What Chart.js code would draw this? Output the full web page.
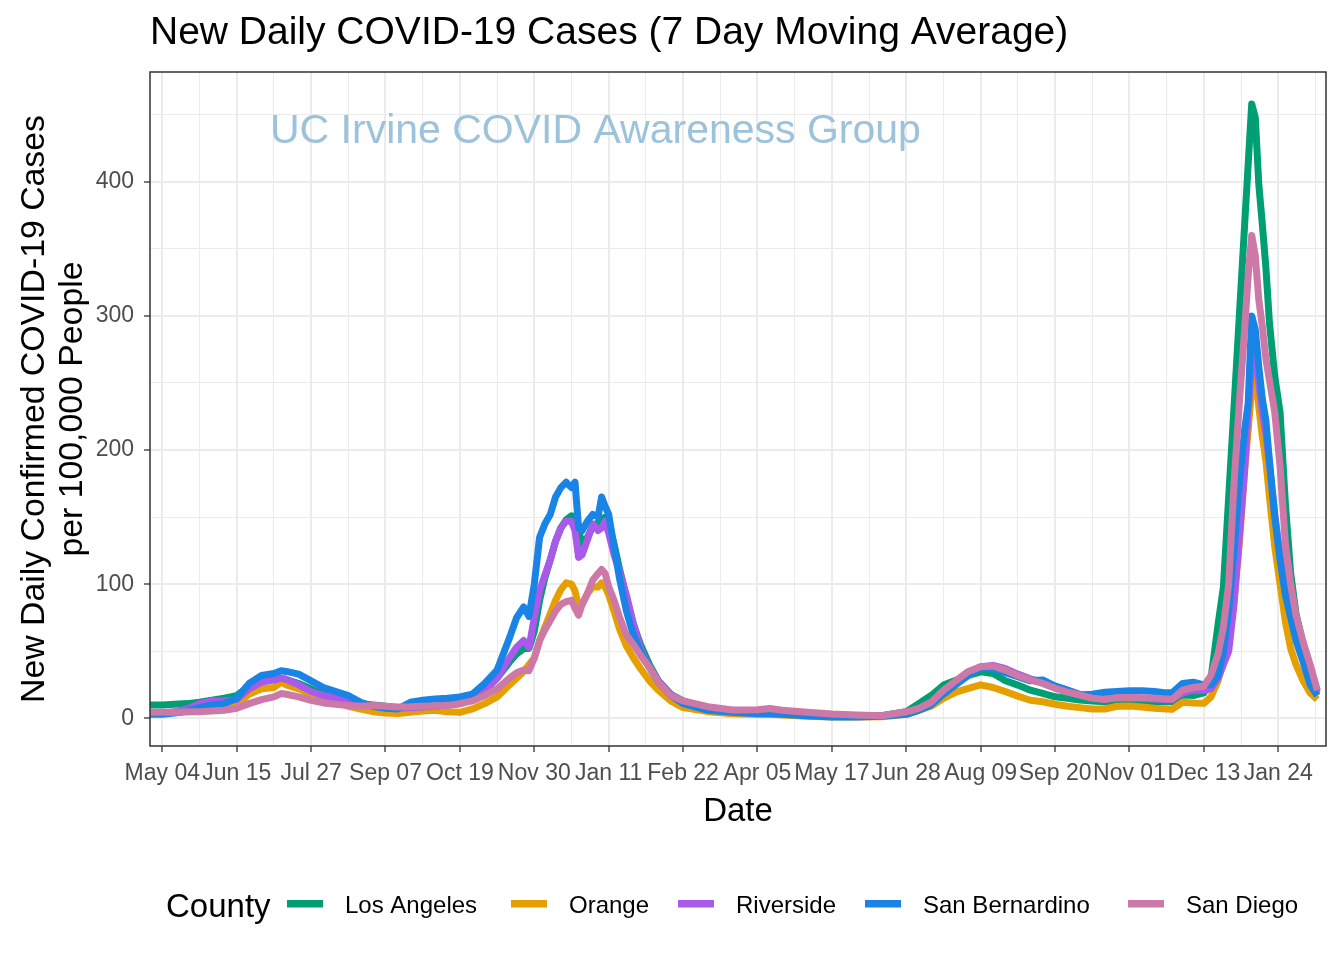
<!DOCTYPE html>
<html>
<head>
<meta charset="utf-8">
<script src="https://cdn.jsdelivr.net/npm/chart.js@4.4.1/dist/chart.umd.min.js"></script>
<style>html,body{margin:0;padding:0;background:#fff}canvas{display:block}</style>
</head>
<body>
<canvas id="c" width="1344" height="960"></canvas>
<script>
// ---------------- data ----------------
const dates = [
"2020-04-27","2020-05-04","2020-05-11","2020-05-18","2020-05-25","2020-06-01","2020-06-08","2020-06-15",
"2020-06-22","2020-06-29","2020-07-06","2020-07-10","2020-07-13","2020-07-20","2020-07-27","2020-08-03","2020-08-10","2020-08-17",
"2020-08-24","2020-08-31","2020-09-07","2020-09-14","2020-09-21","2020-09-28","2020-10-05","2020-10-12","2020-10-19","2020-10-26",
"2020-11-02","2020-11-09","2020-11-16","2020-11-20","2020-11-24","2020-11-27","2020-11-30","2020-12-03","2020-12-06","2020-12-09",
"2020-12-12","2020-12-15","2020-12-18","2020-12-21","2020-12-23","2020-12-25","2020-12-27","2020-12-30","2021-01-02","2021-01-05",
"2021-01-07","2021-01-09","2021-01-11","2021-01-14","2021-01-17","2021-01-21","2021-01-25","2021-01-29","2021-02-03","2021-02-08",
"2021-02-15","2021-02-22","2021-03-08","2021-03-22","2021-04-05","2021-04-12","2021-04-19","2021-05-03","2021-05-17","2021-05-31",
"2021-06-14","2021-06-28","2021-07-05","2021-07-12","2021-07-19","2021-07-26","2021-08-02","2021-08-09","2021-08-16","2021-08-23",
"2021-08-30","2021-09-06","2021-09-13","2021-09-20","2021-09-27","2021-10-04","2021-10-11","2021-10-18","2021-10-25","2021-11-01",
"2021-11-08","2021-11-15","2021-11-22","2021-11-25","2021-12-01","2021-12-07","2021-12-13","2021-12-17","2021-12-21","2021-12-24",
"2021-12-27","2021-12-30","2022-01-02","2022-01-05","2022-01-07","2022-01-09","2022-01-11","2022-01-13","2022-01-15","2022-01-17",
"2022-01-19","2022-01-22","2022-01-25","2022-01-28","2022-01-31","2022-02-03","2022-02-07","2022-02-11","2022-02-15"
];

const losAngeles = [
10,10,10.5,11,12,13.5,15,17,
24,28,30,30,29,26,22,18,15,13,
11,10,9,8,8,8.5,9,10,11,15,
22,30,42,48,52,52,65,88,105,118,
132,142,148,151,150,140,130,135,143,146,
148,150,145,130,112,90,70,55,40,28,
18,13,7,5,4,4,3.5,2.5,2,1.5,
2,5,11,17,24.8,28.5,32,34.7,33.5,28,
24.8,21,18.6,16.1,15,13.6,13,12.4,12.4,12.4,
12.4,12.4,12.4,12.4,17.4,17,19,30,70,98,
165,232,300,368,413,458,448,398,368,336,
295,255,228,160,108,78,55,38,20
];

const orangeCounty = [
4,4,4.5,5,5.5,6,7,10,
18,22,23,27,25,22,18,15,12,9,
7,5,4,3.7,4.5,5.5,6,5,4.5,7,
11,16,25,30,35,40,45,58,68,78,
88,96,101,100,95,83,85,93,98,98,
101,98,92,80,67,54,45,37,28,21,
13,8,5,3.5,3,3,2.5,1.5,1,1,
1.2,3,6,9,14.9,19.5,22.4,25,23,19.9,
16.6,13.5,12.4,10.5,9,8,7,7,9,9.2,
8.5,7.5,7,6.7,12,11.5,11.2,16,28,43,
55,88,130,185,215,245,263,232,210,192,
165,128,100,72,52,40,28,19,14
];

const riverside = [
4,4,5,7,11,13,13,14,
22,27,28.5,30,29,25,20,17,15,13,
11,9,8,7.5,8,8.5,9,10,11,14,
20,30,45,53,58,53,75,95,107,118,
132,142,147,147,140,120,122,133,145,140,
142,147,138,122,110,92,70,52,38,28,
18,12,7.5,5.5,5.5,5.5,5,3.5,2.5,2,
2,3.5,7,11,20,27,34,38.5,39.5,37,
33,29.5,27,24,21,18,15.5,14.5,15,15,
15,14.5,14,14,19,21,21,22,30,40,
50,85,135,185,230,265,272,250,228,212,
190,152,122,95,78,60,44,27,18
];

const sanBernardino = [
3,3,4,5.5,8,10,11,15,
26,32,33.5,35.5,35,33,28,23,20,17,
12,9,7.5,7,12,13.5,14.5,15,16,18,
26,36,60,75,83,76,100,135,145,152,
165,172,176,172,176,142,140,147,152,150,
165,158,152,128,105,80,62,50,38,27,
17,11,6,4.5,3.5,3.5,3,2,1,1,
1.5,3,6,10,18,25,32,38,37,34,
31,28,28.6,24,21,17.5,18,19.5,20,20.6,
20.6,20,19,19,26,27,25,25,32,50,
80,125,175,215,235,300,290,262,238,222,
192,150,118,92,75,58,42,25,17
];

const sanDiego = [
4.5,4.5,4.5,5,5,5.5,6,7.5,
11,14,16,18.5,18,16,13.5,11.5,10.5,9.5,
9,9.5,9,8.5,8.6,9,9.2,9.5,11,13,
17,22,30,34,36,35.5,45,58,66,73,
80,85,87,88,82,77,85,93,103,108,
111,108,98,88,76,62,55,47,38,27,
17,13,8.7,6.2,6.5,7.4,6,4.5,3.2,2.5,
2,4.9,7.5,12,21,28,35,38.5,39,36,
32,28.6,26,22.4,19.5,17.4,15,14,15.5,15.5,
15.4,15,14.5,14.2,21,23,24,32,48,68,
100,175,235,290,330,360,345,312,292,268,
252,228,188,130,100,77,57,40,21
];

const counties = ["Los Angeles", "Orange", "Riverside", "San Bernardino", "San Diego"];
const countyColors = ["#009E73", "#E69F00", "#A95AEB", "#1A84E6", "#CC79A7"];

const xTickDates = ["2020-05-04","2020-06-15","2020-07-27","2020-09-07","2020-10-19","2020-11-30","2021-01-11",
  "2021-02-22","2021-04-05","2021-05-17","2021-06-28","2021-08-09","2021-09-20","2021-11-01","2021-12-13","2022-01-24"];
const xTickLabels = ["May 04","Jun 15","Jul 27","Sep 07","Oct 19","Nov 30","Jan 11",
  "Feb 22","Apr 05","May 17","Jun 28","Aug 09","Sep 20","Nov 01","Dec 13","Jan 24"];
const yTickValues = [0, 100, 200, 300, 400];

const titleText = "New Daily COVID-19 Cases (7 Day Moving Average)";
const xTitle = "Date";
const yTitleLines = ["New Daily Confirmed COVID-19 Cases", "per 100,000 People"];
const legendTitle = "County";
const watermark = "UC Irvine COVID Awareness Group";

// ---------------- helpers ----------------
const BASE = Date.UTC(2020, 4, 4);
const toDay = s => (Date.parse(s + "T00:00:00Z") - BASE) / 864e5;
const days = dates.map(toDay);
const seriesValues = [losAngeles, orangeCounty, riverside, sanBernardino, sanDiego];

const majorX = xTickDates.map(toDay);
const minorX = [];
for (let i = 0; i < majorX.length; i++) {
  minorX.push(majorX[i]);
  if (i < majorX.length - 1) minorX.push((majorX[i] + majorX[i + 1]) / 2);
}
minorX.push(majorX[majorX.length - 1] + (majorX[1] - majorX[0]) / 2);
const xLabelMap = {};
majorX.forEach((d, i) => { xLabelMap[d] = xTickLabels[i]; });
const yAll = [];
yTickValues.forEach(v => { yAll.push(v); yAll.push(v + 50); });

const FONT = '"Liberation Sans", Arial, Helvetica, sans-serif';
const isMajorX = v => majorX.indexOf(v) >= 0;
const isMajorY = v => yTickValues.indexOf(v) >= 0;

const decor = {
  id: 'decor',
  beforeDraw(chart) {
    const c = chart.ctx;
    c.save(); c.fillStyle = '#fff'; c.fillRect(0, 0, chart.width, chart.height); c.restore();
  },
  afterDatasetsDraw(chart) {
    const c = chart.ctx, a = chart.chartArea;
    c.save();
    c.strokeStyle = '#333333'; c.lineWidth = 1.5;
    c.strokeRect(a.left, a.top, a.right - a.left, a.bottom - a.top);
    c.restore();
  },
  afterDraw(chart) {
    const c = chart.ctx, a = chart.chartArea;
    c.save();
    // title
    c.fillStyle = '#000'; c.textAlign = 'left'; c.textBaseline = 'alphabetic';
    c.font = '39px ' + FONT;
    c.fillText(titleText, a.left, 44);
    // watermark
    c.fillStyle = '#9CC2DC';
    c.font = '41px ' + FONT;
    c.fillText(watermark, 270, 143);
    // x title
    c.fillStyle = '#000'; c.textAlign = 'center';
    c.font = '33px ' + FONT;
    c.fillText(xTitle, (a.left + a.right) / 2, 821);
    // y title
    const cy = (a.top + a.bottom) / 2;
    c.font = '33.8px ' + FONT;
    [44, 82].forEach((bx, i) => {
      c.save(); c.translate(bx, cy); c.rotate(-Math.PI / 2);
      c.fillText(yTitleLines[i], 0, 0);
      c.restore();
    });
    // legend
    c.textAlign = 'left';
    c.font = '33px ' + FONT;
    c.fillText(legendTitle, 166, 917);
    const keyX = [287, 511, 678, 865, 1128];
    c.font = '24px ' + FONT;
    chart.data.datasets.forEach((ds, i) => {
      c.fillStyle = ds.borderColor;
      c.fillRect(keyX[i], 900, 36, 7.5);
      c.fillStyle = '#000';
      c.fillText(ds.label, keyX[i] + 58, 913);
    });
    c.restore();
  }
};

new Chart(document.getElementById('c'), {
  type: 'line',
  data: {
    datasets: seriesValues.map((vals, i) => ({
      label: counties[i],
      data: vals.map((v, j) => ({ x: days[j], y: v })),
      borderColor: countyColors[i],
      backgroundColor: countyColors[i],
      borderWidth: 7,
      pointRadius: 0,
      pointHoverRadius: 0,
      tension: 0,
      fill: false,
      borderJoinStyle: 'round',
      borderCapStyle: 'butt',
      order: counties.length - i,
      clip: 0
    }))
  },
  options: {
    responsive: false,
    animation: false,
    events: [],
    layout: { padding: { left: 0, top: 72, right: 18, bottom: 0 } },
    plugins: { legend: { display: false }, title: { display: false }, tooltip: { enabled: false } },
    scales: {
      x: {
        type: 'linear',
        bounds: 'data',
        min: -6.94,
        max: 656.93,
        afterBuildTicks: s => { s.ticks = minorX.map(v => ({ value: v })); },
        afterFit: s => { s.height = 214; },
        ticks: {
          autoSkip: false, maxRotation: 0, minRotation: 0, padding: 8,
          color: '#4D4D4D', font: { family: FONT, size: 23 },
          callback: v => (xLabelMap[v] !== undefined ? xLabelMap[v] : '')
        },
        grid: {
          color: '#EBEBEB',
          lineWidth: ctx => (ctx.tick && isMajorX(ctx.tick.value) ? 2 : 1),
          tickColor: ctx => (ctx.tick && isMajorX(ctx.tick.value) ? '#333333' : 'rgba(0,0,0,0)'),
          tickLength: 6,
          tickWidth: 1.3,
          drawTicks: true
        },
        border: { display: false }
      },
      y: {
        type: 'linear',
        bounds: 'data',
        min: -20.6,
        max: 481.8,
        afterBuildTicks: s => { s.ticks = yAll.map(v => ({ value: v })); },
        afterFit: s => { s.width = 150; },
        ticks: {
          padding: 10,
          color: '#4D4D4D', font: { family: FONT, size: 23 },
          callback: v => (isMajorY(v) ? String(v) : '')
        },
        grid: {
          color: '#EBEBEB',
          lineWidth: ctx => (ctx.tick && isMajorY(ctx.tick.value) ? 2 : 1),
          tickColor: ctx => (ctx.tick && isMajorY(ctx.tick.value) ? '#333333' : 'rgba(0,0,0,0)'),
          tickLength: 6,
          tickWidth: 1.3,
          drawTicks: true
        },
        border: { display: false }
      }
    }
  },
  plugins: [decor]
});
</script>
</body>
</html>
